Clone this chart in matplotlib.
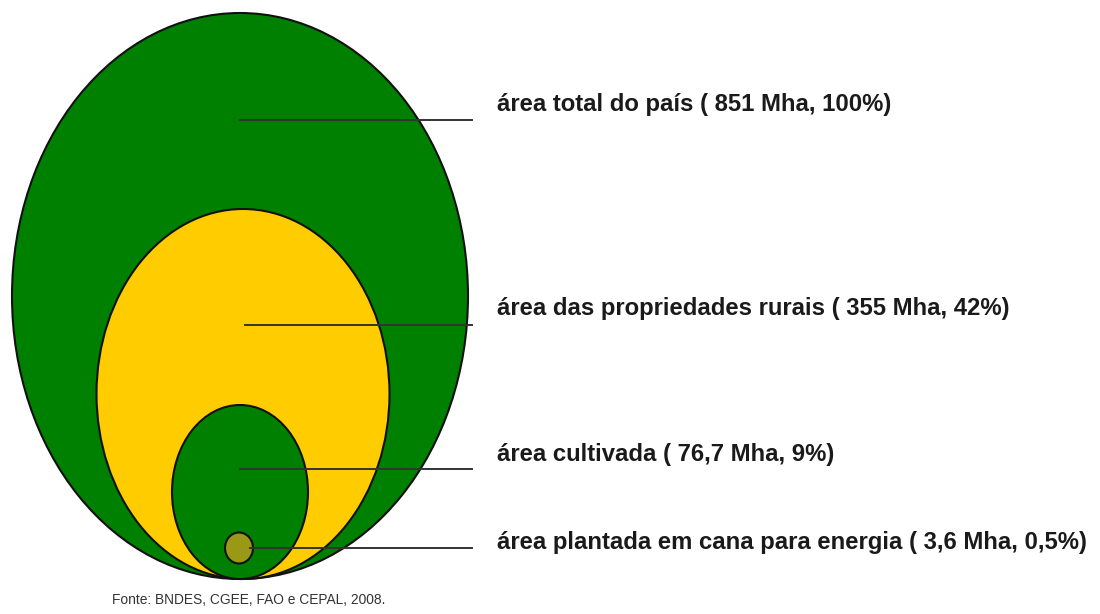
import matplotlib.pyplot as plt
from matplotlib.patches import Ellipse

# data
labels = ['área total do país', 'área das propriedades rurais', 'área cultivada',
          'área plantada em cana para energia']
areas_mha = ['851', '355', '76,7', '3,6']
shares = ['100%', '42%', '9%', '0,5%']
source = 'Fonte: BNDES, CGEE, FAO e CEPAL, 2008.'

# geometry (pixel coords of a 1100x614 canvas, y down)
centers = [(240, 296), (243, 394), (240, 492), (239, 548)]
sizes = [(456, 566), (293, 370), (136, 174), (28, 31)]
colors = ['#008000', '#ffcc00', '#008000', '#999915']
line_starts = [240, 245, 240, 250]
line_ys = [120, 325, 469, 548]
text_ys = [104, 309, 455, 542]

fig = plt.figure(figsize=(11, 6.14), dpi=100)
ax = fig.add_axes([0, 0, 1, 1])
ax.set_xlim(0, 1100)
ax.set_ylim(614, 0)
ax.axis('off')

for (cx, cy), (w, h), c in zip(centers, sizes, colors):
    ax.add_patch(Ellipse((cx, cy), w, h, facecolor=c, edgecolor='#111111', lw=1.5))

for i in range(len(labels)):
    ax.plot([line_starts[i], 472], [line_ys[i], line_ys[i]], color='#333333', lw=1.4)
    txt = f'{labels[i]} ( {areas_mha[i]} Mha, {shares[i]})'
    ax.text(497, text_ys[i], txt, fontsize=17.2, fontweight='bold', color='#1a1a1a',
            family=['Liberation Sans', 'DejaVu Sans'], va='center', ha='left')

ax.text(112, 600, source, fontsize=9.9, color='#333333',
        family=['Liberation Sans', 'DejaVu Sans'], va='center', ha='left')

fig.savefig('out.png', dpi=100)
